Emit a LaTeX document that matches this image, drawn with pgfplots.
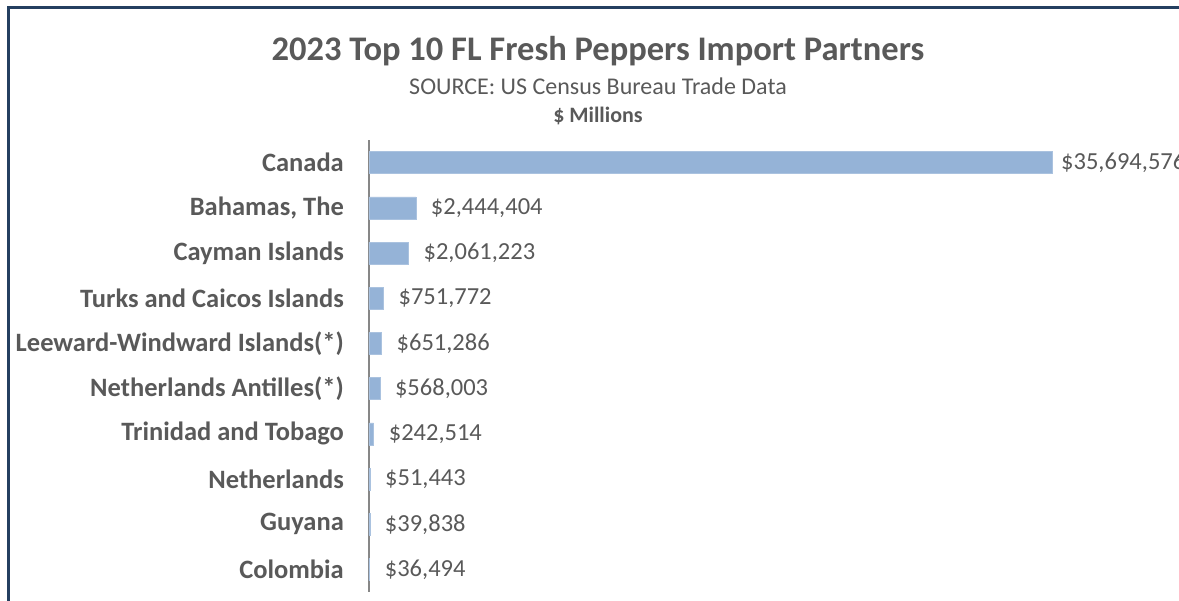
\documentclass[border=0pt]{standalone}
\usepackage{pgfplots}
\pgfplotsset{compat=1.18}
\usepackage{pgfplotstable}
\usepackage{fontspec}
\setmainfont{Carlito}
\definecolor{barblue}{HTML}{95B3D7}
\definecolor{txt}{HTML}{595959}
\definecolor{frame}{HTML}{243F60}
\definecolor{axisgray}{HTML}{878787}

\pgfplotstableread{
y val lab
0 35.694576 35,694,576
}\datatop

\pgfplotstableread{
y val lab
1 2.444404 2,444,404
2 2.061223 2,061,223
3 0.751772 751,772
4 0.651286 651,286
5 0.568003 568,003
6 0.242514 242,514
7 0.051443 51,443
8 0.039838 39,838
9 0.036494 36,494
}\data

\begin{document}
\begin{tikzpicture}[x=1pt,y=1pt]
\path[use as bounding box] (0pt,0pt) rectangle (1179pt,-601pt);
\draw[frame, line width=2.5pt] (8.3pt,-615pt) -- (8.3pt,-7.7pt) -- (1195pt,-7.7pt);
\node[anchor=base, text=txt, font=\bfseries\fontsize{34.5}{36}\selectfont, inner sep=0pt] at (598pt,-61pt) {2023 Top 10 FL Fresh Peppers Import Partners};
\node[anchor=base, text=txt, font=\fontsize{24}{26}\selectfont, inner sep=0pt] at (598pt,-94.5pt) {SOURCE: US Census Bureau Trade Data};
\node[anchor=base, text=txt, font=\bfseries\fontsize{22}{24}\selectfont, inner sep=0pt] at (598pt,-123pt) {\$ Millions};
\begin{axis}[
  at={(369pt,-140pt)}, anchor=north west,
  scale only axis, width=810pt, height=452pt,
  xmin=0, xmax=42.33, ymin=-0.5, ymax=9.5, y dir=reverse,
  axis x line=none, axis y line=left,
  y axis line style={axisgray, line width=1.5pt, -},
  ytick={0,...,9},
  yticklabels={Canada,{Bahamas, The},Cayman Islands,Turks and Caicos Islands,Leeward-Windward Islands(*),Netherlands Antilles(*),Trinidad and Tobago,Netherlands,Guyana,Colombia},
  major tick length=0pt,
  yticklabel style={font=\bfseries\fontsize{26.5}{28}\selectfont, text=txt, anchor=east, inner sep=0pt, xshift=-25pt},
  xbar, bar width=22pt, bar shift=0pt,
  clip=false,
  point meta=explicit symbolic,
  nodes near coords={\$\pgfplotspointmeta},
  nodes near coords style={font=\fontsize{24.5}{26}\selectfont, text=txt, anchor=west, inner sep=0pt, xshift=15pt},
]
\addplot[fill=barblue, draw=barblue!80!white, nodes near coords style={xshift=-6pt}] table[x=val, y=y, meta=lab] {\datatop};
\addplot[fill=barblue, draw=barblue!80!white] table[x=val, y=y, meta=lab] {\data};
\end{axis}
\end{tikzpicture}
\end{document}
